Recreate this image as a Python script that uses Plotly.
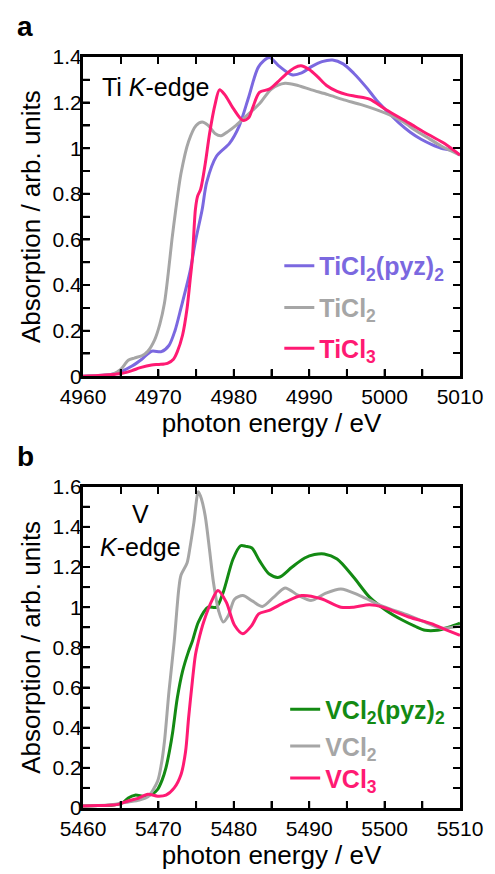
import plotly.graph_objects as go

# ---------------- data: Ti K-edge ----------------
ti_pyz_E = [4960, 4962, 4964, 4965, 4966.5, 4967.8, 4969.1, 4970.4, 4971.4, 4972.2, 4973, 4974.2, 4974.9,
            4975.8, 4976.4, 4977.7, 4979.4, 4980.7, 4982, 4983.3, 4984.7, 4986, 4987.7, 4989, 4990.3,
            4991.7, 4993.1, 4994.5, 4995.9, 4997.5, 4998.9, 5000.4, 5001.9, 5003.4, 5004.9, 5006.2,
            5007.5, 5009, 5010]
ti_pyz_A = [0.0, 0.003, 0.01, 0.02, 0.045, 0.075, 0.11, 0.108, 0.135, 0.2, 0.30, 0.46, 0.59,
            0.73, 0.85, 0.965, 1.02, 1.096, 1.227, 1.358, 1.398, 1.36, 1.322, 1.33, 1.358,
            1.38, 1.387, 1.37, 1.329, 1.27, 1.212, 1.16, 1.111, 1.07, 1.038, 1.017,
            1.0, 0.99, 0.97]

ti_cl2_E = [4960, 4962, 4964, 4965, 4966, 4966.8, 4967.8, 4968.6, 4969.5, 4970.2, 4970.8, 4971.3, 4971.8,
            4972.3, 4973, 4974, 4975, 4975.8, 4976.6, 4977.5, 4978.3, 4979.3, 4980.3, 4981.6, 4983.4,
            4985, 4986.8, 4988.5, 4990.3, 4992.5, 4994.6, 4997, 5000.6, 5002.5, 5004, 5006, 5007.5, 5010]
ti_cl2_A = [0.0, 0.003, 0.01, 0.03, 0.07, 0.08, 0.09, 0.11, 0.16, 0.23, 0.32, 0.45, 0.6,
            0.73, 0.89, 1.03, 1.10, 1.115, 1.10, 1.065, 1.055, 1.075, 1.10, 1.14, 1.195,
            1.26, 1.285, 1.275, 1.256, 1.235, 1.212, 1.19, 1.147, 1.115, 1.08, 1.04, 1.01, 0.97]

ti_cl3_E = [4960, 4962, 4964, 4965.2, 4966.5, 4967.6, 4969.1, 4970.1, 4971.2, 4972, 4972.5, 4973.2, 4973.8,
            4974.2, 4974.5, 4974.9, 4975.2, 4975.6, 4976.2, 4976.8, 4977.5, 4978.1, 4978.8, 4979.9,
            4981.2, 4982, 4982.5, 4983.4, 4984.7, 4985.8, 4986.8, 4988, 4988.9, 4990, 4991.1, 4992.3,
            4993.7, 4995, 4996.3, 4998, 5000.2, 5003.2, 5005.8, 5008, 5010]
ti_cl3_A = [0.0, 0.003, 0.008, 0.013, 0.025, 0.038, 0.05, 0.052, 0.057, 0.075, 0.107, 0.18, 0.297,
            0.42, 0.515, 0.73, 0.79, 0.82, 0.93, 1.067, 1.19, 1.256, 1.235, 1.176,
            1.122, 1.135, 1.177, 1.245, 1.259, 1.29, 1.321, 1.352, 1.362, 1.345, 1.314, 1.275,
            1.249, 1.235, 1.227, 1.215, 1.169, 1.111, 1.06, 1.02, 0.97]

# ---------------- data: V K-edge ----------------
v_pyz_E = [5460, 5462, 5464, 5465.2, 5466, 5466.9, 5468.2, 5469.2, 5469.9, 5470.5, 5471, 5471.5, 5471.9,
           5472.5, 5473.2, 5474, 5474.5, 5475.3, 5476.6, 5477.7, 5478.6, 5479.9, 5480.9, 5481.6, 5482.4,
           5483.4, 5484.7, 5486, 5487.7, 5489.4, 5490.7, 5492, 5493.7, 5495.9, 5498, 5500.2, 5502.4,
           5504, 5505.4, 5507, 5508.5, 5510]
v_pyz_A = [0.01, 0.012, 0.015, 0.025, 0.05, 0.064, 0.059, 0.07, 0.093, 0.14, 0.2, 0.29, 0.38,
           0.546, 0.68, 0.78, 0.83, 0.926, 1.0, 1.0, 1.075, 1.24, 1.306, 1.303, 1.295,
           1.232, 1.165, 1.149, 1.199, 1.245, 1.262, 1.265, 1.24, 1.149, 1.05, 0.984, 0.935,
           0.906, 0.885, 0.885, 0.9, 0.92]

v_cl2_E = [5460, 5462, 5464, 5466, 5467.5, 5468.6, 5469.9, 5470.4, 5470.8, 5471.4, 5472.1, 5472.7, 5473,
           5473.8, 5474.2, 5474.7, 5475.3, 5475.7, 5476.2, 5476.8, 5477.3, 5478, 5478.6, 5479.3, 5480.1,
           5481.2, 5482.5, 5483.8, 5485.3, 5486.8, 5488.5, 5490.3, 5492.2, 5494.2, 5496.7, 5499.8,
           5503.2, 5505.8, 5507.5, 5509, 5510]
v_cl2_A = [0.01, 0.012, 0.018, 0.03, 0.04, 0.055, 0.134, 0.22, 0.33, 0.58, 0.83, 1.09, 1.16,
           1.22, 1.3, 1.42, 1.575, 1.54, 1.456, 1.28, 1.124, 0.98, 0.926, 0.96, 1.04,
           1.058, 1.03, 1.004, 1.05, 1.096, 1.06, 1.034, 1.07, 1.091, 1.058, 1.004,
           0.959, 0.918, 0.895, 0.9, 0.905]

v_cl3_E = [5460, 5462, 5464, 5464.7, 5466, 5467.3, 5468.6, 5469.9, 5471, 5472.1, 5473, 5473.6, 5474,
           5474.5, 5474.9, 5475.3, 5476, 5477.1, 5477.9, 5479, 5480.1, 5481.2, 5482.4, 5483.3, 5484.7,
           5486.8, 5489, 5491.6, 5494.2, 5495.9, 5498, 5499.8, 5503.2, 5506.2, 5508, 5510]
v_cl3_A = [0.01, 0.012, 0.015, 0.018, 0.035, 0.048, 0.068, 0.059, 0.064, 0.1, 0.167, 0.28, 0.447,
           0.63, 0.76, 0.83, 0.926, 1.034, 1.083, 1.025, 0.91, 0.868, 0.91, 0.967, 0.984,
           1.025, 1.058, 1.042, 1.0, 1.0, 1.012, 1.0, 0.951, 0.918, 0.89, 0.86]

# ---------------- tick labels ----------------
ti_xticks = [4960, 4970, 4980, 4990, 5000, 5010]
v_xticks = [5460, 5470, 5480, 5490, 5500, 5510]
ti_yticks = [0, 0.2, 0.4, 0.6, 0.8, 1.0, 1.2, 1.4]
ti_ytext = ["0", "0.2", "0.4", "0.6", "0.8", "1", "1.2", "1.4"]
v_yticks = [0, 0.2, 0.4, 0.6, 0.8, 1.0, 1.2, 1.4, 1.6]
v_ytext = ["0", "0.2", "0.4", "0.6", "0.8", "1", "1.2", "1.4", "1.6"]

PURPLE = "#7b68e0"
GRAY = "#a6a6a6"
PINK = "#ff1a73"
GREEN = "#138a13"
FONT = "Liberation Sans, Arial, sans-serif"

W, H = 495, 874
top_px, bot_px = 57, 812
left_px, right_px = 83, 469
ph = bot_px - top_px
pw = right_px - left_px
TICKLEN = 7


def px_to_paper_y(py):
    return (bot_px - py) / ph


def px_to_paper_x(px):
    return (px - left_px) / pw


def lab(name, color):
    return f"<span style='color:{color}'><b>{name}</b></span>"


fig = go.Figure()
top = [
    (ti_pyz_E, ti_pyz_A, PURPLE, "TiCl<sub>2</sub>(pyz)<sub>2</sub>"),
    (ti_cl2_E, ti_cl2_A, GRAY, "TiCl<sub>2</sub>"),
    (ti_cl3_E, ti_cl3_A, PINK, "TiCl<sub>3</sub>"),
]
bot = [
    (v_pyz_E, v_pyz_A, GREEN, "VCl<sub>2</sub>(pyz)<sub>2</sub>"),
    (v_cl2_E, v_cl2_A, GRAY, "VCl<sub>2</sub>"),
    (v_cl3_E, v_cl3_A, PINK, "VCl<sub>3</sub>"),
]
legend_centers_top = [267, 309, 350]
legend_centers_bot = [713, 750, 782]

legends = {}
k = 1
for group, axes, centers, text_x in ((top, ("x", "y"), legend_centers_top, 322),
                                     (bot, ("x2", "y2"), legend_centers_bot, 328)):
    for (x, y, c, n), cy in zip(group, centers):
        lname = "legend" if k == 1 else f"legend{k}"
        fig.add_trace(go.Scatter(x=x, y=y, mode="lines", name=lab(n, c), showlegend=True,
                                 line=dict(color=c, width=3, shape="spline", smoothing=0.8),
                                 xaxis=axes[0], yaxis=axes[1], legend=lname))
        legends[lname] = dict(x=px_to_paper_x(text_x - 38), y=px_to_paper_y(cy),
                              xanchor="left", yanchor="middle", bgcolor="rgba(0,0,0,0)",
                              font=dict(family=FONT, size=25), itemwidth=30)
        k += 1

d_top = [px_to_paper_y(378), 1.0]
d_bot = [0.0, px_to_paper_y(489)]

tickfont = dict(family=FONT, size=21, color="black")
xtitle = dict(text="photon energy / eV", font=dict(family=FONT, size=26, color="black"), standoff=4)
ytitle = dict(text="Absorption / arb. units", font=dict(family=FONT, size=26, color="black"), standoff=5)


def minor(t0, dt):
    return dict(tickmode="linear", tick0=t0, dtick=dt, ticks="inside", ticklen=TICKLEN, tickwidth=2,
                tickcolor="black", showgrid=False)


main_ax = dict(showline=True, linecolor="black", linewidth=3, mirror="allticks",
               ticks="inside", ticklen=TICKLEN, tickwidth=2, tickcolor="black",
               showgrid=False, zeroline=False, tickmode="array", tickfont=tickfont)


def with_mids(vals):
    out = list(vals)
    for a, b in zip(vals[:-1], vals[1:]):
        out.append((a + b) / 2)
    return sorted(out)[1:-1]


# inside tick marks on the bottom / left edges, placed on the axes' own scales
shapes = []
for xa, ya, xt, yt, h_px in (("x", "y", ti_xticks, ti_yticks, 378 - top_px),
                             ("x2", "y2", v_xticks, v_yticks, bot_px - 489)):
    for v in with_mids(xt):
        shapes.append(dict(type="line", xref=xa, yref=f"{ya} domain", x0=v, x1=v,
                           y0=0, y1=TICKLEN / h_px, line=dict(color="black", width=2)))
    for v in with_mids(yt):
        shapes.append(dict(type="line", xref=f"{xa} domain", yref=ya, x0=0, x1=TICKLEN / pw,
                           y0=v, y1=v, line=dict(color="black", width=2)))

fig.update_layout(
    width=W, height=H, showlegend=True,
    margin=dict(l=left_px, r=W - right_px, t=top_px, b=H - bot_px),
    paper_bgcolor="white", plot_bgcolor="white",
    font=dict(family=FONT, color="black"),
    xaxis=dict(main_ax, domain=[0, 1], anchor="y", range=[4960, 5010],
               tickvals=ti_xticks, ticktext=[str(v) for v in ti_xticks],
               minor=minor(4960, 5), title=xtitle),
    yaxis=dict(main_ax, domain=d_top, anchor="x", range=[0, 1.4],
               tickvals=ti_yticks, ticktext=ti_ytext, ticklabelstandoff=-6,
               minor=minor(0, 0.1), title=ytitle),
    xaxis2=dict(main_ax, domain=[0, 1], anchor="y2", range=[5460, 5510],
                tickvals=v_xticks, ticktext=[str(v) for v in v_xticks],
                minor=minor(5460, 5), title=xtitle),
    yaxis2=dict(main_ax, domain=d_bot, anchor="x2", range=[0, 1.6],
                tickvals=v_yticks, ticktext=v_ytext, ticklabelstandoff=-6,
                minor=minor(0, 0.1), title=ytitle),
    shapes=shapes,
    annotations=[
        dict(text="<b>a</b>", xref="paper", yref="paper", x=px_to_paper_x(24), y=px_to_paper_y(26),
             xanchor="center", yanchor="middle", showarrow=False, font=dict(family=FONT, size=28)),
        dict(text="<b>b</b>", xref="paper", yref="paper", x=px_to_paper_x(24), y=px_to_paper_y(459),
             xanchor="center", yanchor="middle", showarrow=False, font=dict(family=FONT, size=28)),
        dict(text="Ti <i>K</i>-edge", xref="x", yref="y", x=4962.2, y=1.27,
             xanchor="left", yanchor="middle", showarrow=False, font=dict(family=FONT, size=25)),
        dict(text="V<br><i>K</i>-edge", xref="x2", yref="y2", x=5467.6, y=1.38,
             xanchor="center", yanchor="middle", showarrow=False, align="center",
             font=dict(family=FONT, size=25)),
    ],
)
fig.update_layout(**legends)

fig.write_html("out.html", config={"displayModeBar": False},
               post_script="document.body.style.margin='0';")
